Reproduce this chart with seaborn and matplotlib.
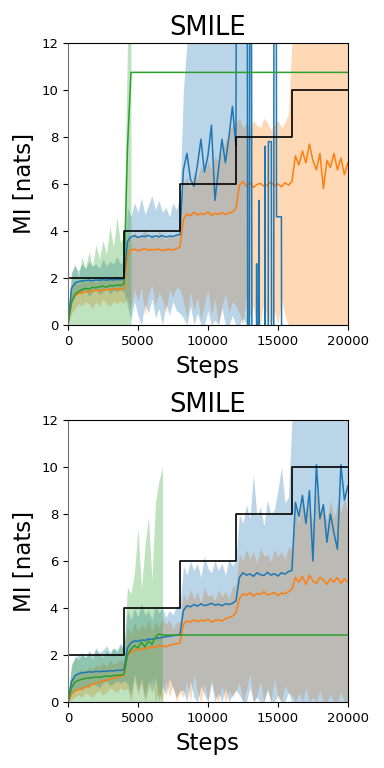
import numpy as np
import matplotlib
matplotlib.use("Agg")
import matplotlib.pyplot as plt
import seaborn as sns

# x grid of the logged runs (every 250 steps)
steps = list(range(0, 20001, 250))

# ground truth MI (staircase)
truth_steps = [0, 4000, 8000, 12000, 16000, 20000]
truth_vals = [2, 4, 6, 8, 10, 10]

# ---------------- top panel ----------------
top_blue = [0.0, 1.55, 1.78, 1.84, 1.87, 1.89, 1.9, 1.88, 1.91, 1.9, 1.92, 1.9, 1.93, 1.91, 1.94, 1.92, 1.95,
            3.55, 3.74, 3.8, 3.72, 3.78, 3.76, 3.81, 3.73, 3.79, 3.75, 3.8, 3.74, 3.78, 3.76, 3.82,
            3.85, 6.6, 7.3, 6.2, 5.9, 6.8, 7.9, 6.5, 7.2, 8.5, 5.3, 6.6, 7.9, 6.9, 8.0, 9.3, 7.6]
# blue estimator blows up after 12k steps
top_blue_tail_steps = [12050, 12800, 12850, 12950, 13000, 13100, 13150, 13450, 13480, 13520, 13620, 13650, 13680,
                       14050, 14080, 14110, 14300, 14320, 14530, 14550, 14700, 14720, 14880, 14900, 15250, 15270]
top_blue_tail = [20, 20, -5, -5, 20, 20, -5, -5, 2.6, -5, -5, 5.3, -5,
                 -5, 7.6, -5, -5, 7.8, 7.8, -5, -5, 20, 20, 4.6, 4.6, -5]
top_orange = [0.0, 1.05, 1.25, 1.33, 1.38, 1.42, 1.4, 1.45, 1.47, 1.44, 1.5, 1.48, 1.52, 1.5, 1.54, 1.51, 1.55,
              2.95, 3.18, 3.22, 3.15, 3.2, 3.24, 3.17, 3.21, 3.19, 3.23, 3.16, 3.2, 3.22, 3.18, 3.25,
              3.3, 4.5, 4.72, 4.65, 4.8, 4.68, 4.74, 4.7, 4.82, 4.66, 4.75, 4.71, 4.78, 4.7, 4.76, 4.8,
              4.95, 5.95, 6.1, 5.9, 6.05, 5.85, 5.98, 6.02, 5.9, 5.95, 6.08, 5.92, 6.0, 5.88, 6.05, 5.95,
              6.1, 7.2, 6.8, 7.4, 6.9, 7.7, 7.0, 6.6, 7.3, 5.8, 7.0, 6.7, 7.3, 6.6, 7.1, 6.4, 6.9]
top_green = [0.0, 0.95, 1.3, 1.42, 1.5, 1.55, 1.52, 1.6, 1.58, 1.62, 1.65, 1.6, 1.68, 1.66, 1.7, 1.68, 1.75,
             7.5, 10.75, 10.75]
top_green_steps = steps[:19] + [20000]

# raw estimates, lower / upper envelopes
top_green_hi = [0.3, 2.2, 2.6, 2.0, 2.9, 2.4, 3.1, 2.5, 3.4, 2.8, 3.6, 3.0, 4.2, 3.3, 4.6, 3.5, 3.8, 12, 12]
top_green_lo = [0] * 19
top_blue_hi = [0.2, 2.2, 2.5, 2.3, 2.6, 2.4, 2.7, 2.5, 2.6, 2.4, 2.8, 2.5, 2.7, 2.6, 2.9, 2.6, 2.7,
               5.0, 4.6, 5.2, 4.8, 5.4, 4.7, 5.1, 5.5, 4.9, 5.3, 4.8, 5.0, 4.6, 5.2, 4.9,
               5.5, 10.0] + [12] * 19
top_blue_lo = [0, 0.9, 1.2, 1.4, 1.3, 1.5, 1.2, 1.4, 1.5, 1.3, 1.4, 1.6, 1.3, 1.5, 1.4, 1.5, 1.4,
               0.8, 0.2, 1.0, 0.4, 0.0, 0.9, 0.5, 1.1, 0.3, 0.7, 0.0, 0.9, 0.4, 1.0, 0.6,
               0.5, 0.3, 0.0, 0.8, 0.0, 0.5, 0.0, 0.0, 0.6, 0.0, 0.2, 0.0, 0.7, 0.0, 0.0, 0.4, 0.0, 0.0, 0.3, 0.0, 0.0]
top_orange_hi = [0.2, 1.6, 1.8, 1.7, 1.9, 1.8, 2.0, 1.9, 1.8, 2.0, 1.9, 2.1, 1.9, 2.0, 2.1, 1.9, 2.0,
                 3.9, 3.6, 4.0, 3.7, 3.8, 4.1, 3.6, 3.9, 3.7, 4.0, 3.8, 3.6, 3.9, 3.7, 3.8,
                 3.9, 6.0, 6.3, 5.8, 6.5, 6.2, 6.8, 6.4, 7.0, 6.6, 7.2, 6.9, 7.5, 7.8, 8.2, 8.5,
                 8.6, 8.8, 8.4, 8.6, 8.3, 8.7, 8.5, 8.4, 8.8, 8.6, 8.3, 8.5, 8.7, 8.4, 8.6, 9.0] + [12] * 17
top_orange_lo = [0, 0.5, 0.7, 0.9, 0.8, 1.0, 0.9, 0.7, 1.0, 0.8, 1.1, 0.9, 0.8, 1.0, 0.9, 1.0, 0.9,
                 1.2, 0.6, 1.5, 1.0, 1.6, 0.4, 1.3, 1.7, 0.8, 1.4, 1.1, 0.5, 1.5, 1.2, 1.6,
                 1.5, 1.0, 0.3, 1.4, 0.6, 1.2, 0.2, 0.9, 1.5, 0.4, 1.1, 0.0, 0.8, 1.3, 0.5, 1.0,
                 0.8, 0.5, 0.0, 1.2, 0.3, 0.8, 0.0, 0.0, 1.0, 0.2, 0.0, 0.6, 0.0, 1.1, 0.4, 0.0] + [0] * 17

# ---------------- bottom panel ----------------
bot_blue = [0.0, 0.85, 1.12, 1.2, 1.24, 1.26, 1.28, 1.27, 1.3, 1.29, 1.31, 1.3, 1.33, 1.32, 1.35, 1.34, 1.38,
            2.3, 2.52, 2.6, 2.58, 2.64, 2.62, 2.68, 2.66, 2.7, 2.72, 2.75, 2.78, 2.8, 2.82, 2.85,
            2.87, 3.9, 4.1, 4.05, 4.15, 4.08, 4.18, 4.1, 4.14, 4.2, 4.12, 4.16, 4.1, 4.18, 4.15, 4.2,
            4.3, 5.3, 5.5, 5.4, 5.45, 5.35, 5.5, 5.42, 5.38, 5.52, 5.4, 5.46, 5.36, 5.5, 5.44, 5.55,
            5.6, 8.5, 7.9, 8.8, 7.6, 9.0, 6.0, 10.1, 7.8, 8.4, 6.8, 8.0, 7.2, 6.5, 10.1, 8.6, 9.2]
bot_orange = [0.0, 0.35, 0.48, 0.52, 0.58, 0.62, 0.7, 0.74, 0.8, 0.84, 0.9, 0.92, 0.97, 1.0, 1.06, 1.1, 1.12,
              1.95, 2.15, 2.2, 2.25, 2.22, 2.3, 2.28, 2.35, 2.32, 2.4, 2.38, 2.35, 2.42, 2.45, 2.48,
              2.5, 3.3, 3.45, 3.4, 3.5, 3.42, 3.48, 3.45, 3.52, 3.4, 3.47, 3.5, 3.44, 3.55, 3.6, 3.65,
              3.8, 4.4, 4.6, 4.55, 4.65, 4.5, 4.62, 4.58, 4.7, 4.55, 4.6, 4.66, 4.52, 4.64, 4.6, 4.7,
              4.8, 5.3, 5.1, 5.35, 5.0, 5.4, 5.15, 5.05, 5.3, 5.2, 5.0, 5.25, 5.1, 5.3, 5.05, 5.25, 5.1]
bot_green = [0.0, 0.6, 0.85, 0.92, 0.97, 1.0, 1.02, 1.04, 1.06, 1.05, 1.08, 1.1, 1.09, 1.12, 1.14, 1.13, 1.18,
             2.0, 2.25, 2.4, 2.3, 2.55, 2.35, 2.6, 2.45, 2.75, 2.9, 2.85, 2.85]
bot_green_steps = steps[:28] + [20000]

bot_green_hi = [0.2, 1.6, 1.9, 1.8, 2.0, 1.9, 2.1, 1.8, 2.2, 2.0, 1.9, 2.2, 2.0, 2.3, 2.1, 2.4, 2.2,
                4.9, 4.6, 5.5, 7.4, 4.8, 6.6, 7.9, 5.2, 8.5, 9.4, 10.0]
bot_green_lo = [0] * 28
bot_blue_hi = [0.2, 1.5, 1.9, 2.0, 2.1, 1.9, 2.2, 2.0, 2.3, 2.1, 2.2, 2.4, 2.1, 2.3, 2.2, 2.5, 2.3,
               3.9, 3.5, 4.0, 3.6, 4.2, 3.7, 3.9, 3.5, 4.1, 3.8, 4.0, 3.6, 3.9, 3.7, 4.1,
               4.0, 5.8, 5.4, 6.0, 5.6, 5.9, 5.3, 6.2, 5.7, 5.5, 6.0, 5.6, 5.9, 5.4, 6.1, 5.8,
               6.0, 8.0, 7.6, 8.4, 7.8, 9.7, 7.9, 8.3, 7.5, 8.6, 8.0, 8.2, 9.0, 10.0, 8.5, 8.7] + [12] * 17
bot_blue_lo = [0, 0.3, 0.5, 0.6, 0.5, 0.7, 0.6, 0.8, 0.7, 0.6, 0.8, 0.9, 0.7, 0.8, 0.9, 0.8, 0.9,
               0.8, 0.3, 1.2, 0.5, 1.0, 0.2, 0.9, 0.4, 1.1, 0.0, 0.7, 0.3, 1.0, 0.6, 0.2,
               0.5, 0.5, 0.0, 0.9, 0.2, 0.0, 0.7, 0.3, 0.0, 0.8, 0.0, 0.4, 0.0, 0.6, 0.0, 0.3,
               0.5, 0.3, 0.0, 0.0, 0.6, 0.0, 0.2, 0.0, 0.0, 0.5, 0.0, 0.0, 0.3, 0.0, 0.0, 0.4] + [0] * 17
bot_orange_hi = [0.1, 1.0, 1.2, 1.3, 1.4, 1.3, 1.5, 1.4, 1.6, 1.5, 1.7, 1.5, 1.8, 1.6, 1.7, 1.8, 1.7,
                 3.2, 2.9, 3.4, 3.0, 3.3, 3.1, 3.5, 3.0, 3.4, 3.2, 3.6, 3.3, 3.5, 3.1, 3.4,
                 3.4, 4.6, 4.3, 4.8, 4.4, 4.7, 4.2, 4.9, 4.5, 4.6, 4.3, 4.8, 4.5, 4.7, 4.4, 4.9,
                 5.0, 6.3, 6.0, 6.5, 6.1, 6.4, 5.9, 6.6, 6.2, 6.3, 6.0, 6.5, 6.2, 6.4, 6.1, 6.6,
                 6.5, 8.2, 7.6, 8.8, 7.9, 8.4, 7.5, 9.0, 8.0, 8.3, 7.7, 8.6, 7.8, 8.5, 8.1, 8.7, 8.0]
bot_orange_lo = [0, 0.1, 0.2, 0.3, 0.2, 0.4, 0.3, 0.2, 0.4, 0.5, 0.3, 0.4, 0.6, 0.5, 0.4, 0.6, 0.5,
                 0.6, 0.0, 1.0, 0.3, 0.8, 0.0, 0.5, 1.1, 0.0, 0.4, 0.0, 0.9, 0.2, 0.7, 0.0,
                 0.4, 0.2, 0.9, 0.0, 1.2, 0.4, 0.0, 0.8, 0.0, 1.0, 0.3, 0.0, 0.7, 0.0, 0.5, 0.2,
                 0.5, 0.8, 0.0, 0.5, 1.2, 0.0, 0.3, 0.9, 0.0, 0.6, 0.0, 1.0, 0.2, 0.0, 0.7, 0.4,
                 0.3, 0.0, 0.4, 0.0, 0.6, 0.0, 0.2, 0.0, 0.5, 0.0, 0.0, 0.3, 0.0, 0.0, 0.4, 0.0, 0.0]

C_BLUE, C_ORANGE, C_GREEN = "#1f77b4", "#ff7f0e", "#2ca02c"


def band(ax, lo, hi, color):
    x = steps[:len(hi)]
    ax.fill_between(x, lo, hi, color=color, alpha=0.3, lw=0)


def line(ax, x, y, color):
    sns.lineplot(x=x, y=y, ax=ax, color=color, lw=1.1, estimator=None, sort=False)


def style(ax):
    ax.set_xlim(0, 20000)
    ax.set_ylim(0, 12)
    ax.set_xticks([0, 5000, 10000, 15000, 20000])
    ax.set_yticks([0, 2, 4, 6, 8, 10, 12])
    ax.tick_params(labelsize=9.5)
    ax.set_title("SMILE", fontsize=18.5)
    ax.set_xlabel("Steps", fontsize=16.5, labelpad=5)
    ax.set_ylabel("MI [nats]", fontsize=16.5)
    ax.spines["left"].set_color("0.45")


fig = plt.figure(figsize=(3.84, 7.68), dpi=100)
ax1 = fig.add_axes([0.177, 0.577, 0.729, 0.367])
ax2 = fig.add_axes([0.177, 0.086, 0.729, 0.367])

# top: each run drawn as raw band + smoothed line, orange -> blue -> green
band(ax1, top_orange_lo, top_orange_hi, C_ORANGE)
line(ax1, steps, top_orange, C_ORANGE)
band(ax1, top_blue_lo, top_blue_hi, C_BLUE)
line(ax1, steps[:49] + top_blue_tail_steps, top_blue + top_blue_tail, C_BLUE)
band(ax1, top_green_lo, top_green_hi, C_GREEN)
line(ax1, top_green_steps, top_green, C_GREEN)
sns.lineplot(x=truth_steps, y=truth_vals, ax=ax1, color="black", lw=1.2,
             drawstyle="steps-post", estimator=None)
style(ax1)

# bottom
band(ax2, bot_orange_lo, bot_orange_hi, C_ORANGE)
line(ax2, steps, bot_orange, C_ORANGE)
band(ax2, bot_blue_lo, bot_blue_hi, C_BLUE)
line(ax2, steps, bot_blue, C_BLUE)
band(ax2, bot_green_lo, bot_green_hi, C_GREEN)
line(ax2, bot_green_steps, bot_green, C_GREEN)
sns.lineplot(x=truth_steps, y=truth_vals, ax=ax2, color="black", lw=1.2,
             drawstyle="steps-post", estimator=None)
style(ax2)

fig.savefig("out.png", dpi=100)
